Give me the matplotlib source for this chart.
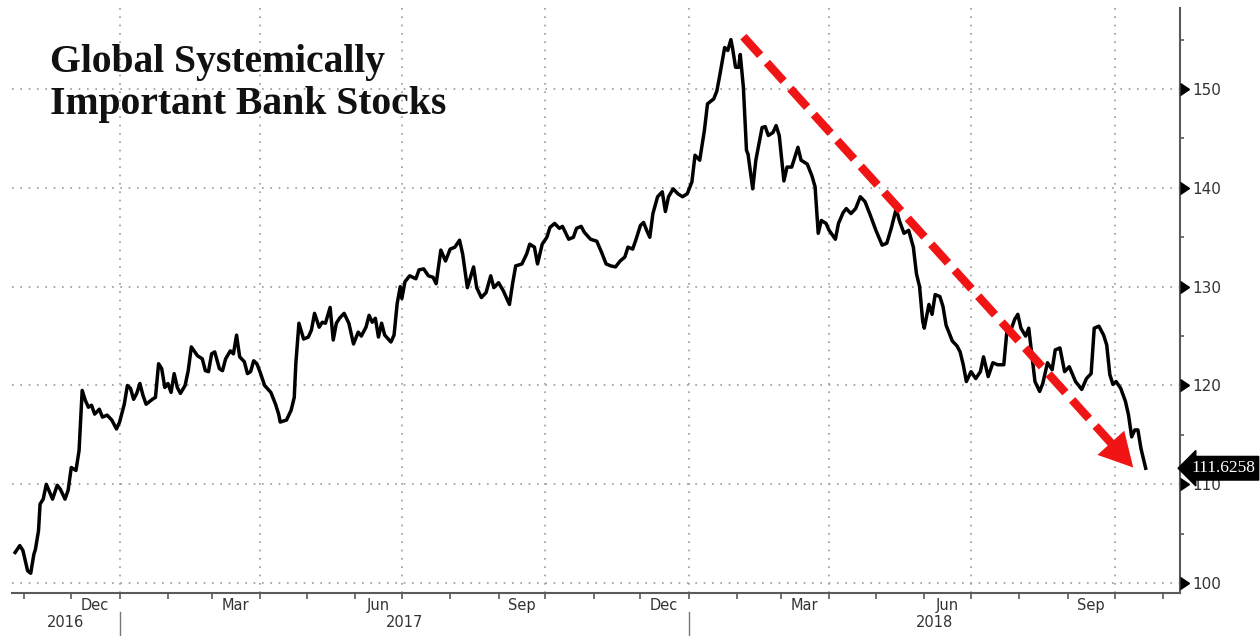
import matplotlib
matplotlib.use("Agg")
import matplotlib.pyplot as plt
import matplotlib.dates as mdates
import matplotlib.transforms as mtransforms
import pandas as pd

# ==========================================
# Data
# ==========================================
DATES = [
    "2016-10-26", "2016-10-29", "2016-10-31", "2016-11-03", "2016-11-05", "2016-11-07", "2016-11-08", "2016-11-10",
    "2016-11-11", "2016-11-13", "2016-11-15", "2016-11-19", "2016-11-22", "2016-11-24", "2016-11-27", "2016-11-29",
    "2016-12-01", "2016-12-04", "2016-12-06", "2016-12-08", "2016-12-10", "2016-12-12", "2016-12-14", "2016-12-16",
    "2016-12-19", "2016-12-21", "2016-12-24", "2016-12-27", "2016-12-30", "2017-01-01", "2017-01-04", "2017-01-06",
    "2017-01-08", "2017-01-10", "2017-01-12", "2017-01-14", "2017-01-16", "2017-01-18", "2017-01-22", "2017-01-24",
    "2017-01-26", "2017-01-28", "2017-01-30", "2017-02-01", "2017-02-03", "2017-02-05", "2017-02-07", "2017-02-09",
    "2017-02-12", "2017-02-14", "2017-02-16", "2017-02-20", "2017-02-23", "2017-02-25", "2017-02-27", "2017-03-01",
    "2017-03-03", "2017-03-06", "2017-03-08", "2017-03-10", "2017-03-13", "2017-03-15", "2017-03-17", "2017-03-19",
    "2017-03-22", "2017-03-24", "2017-03-26", "2017-03-28", "2017-03-30", "2017-04-01", "2017-04-04", "2017-04-08",
    "2017-04-11", "2017-04-13", "2017-04-14", "2017-04-18", "2017-04-21", "2017-04-23", "2017-04-24", "2017-04-26",
    "2017-04-29", "2017-05-02", "2017-05-04", "2017-05-06", "2017-05-09", "2017-05-11", "2017-05-13", "2017-05-16",
    "2017-05-18", "2017-05-20", "2017-05-22", "2017-05-25", "2017-05-28", "2017-05-31", "2017-06-03", "2017-06-05",
    "2017-06-08", "2017-06-10", "2017-06-12", "2017-06-14", "2017-06-16", "2017-06-18", "2017-06-20", "2017-06-24",
    "2017-06-26", "2017-06-28", "2017-06-30", "2017-07-01", "2017-07-03", "2017-07-06", "2017-07-10", "2017-07-12",
    "2017-07-15", "2017-07-18", "2017-07-21", "2017-07-23", "2017-07-26", "2017-07-29", "2017-08-01", "2017-08-04",
    "2017-08-07", "2017-08-09", "2017-08-12", "2017-08-16", "2017-08-18", "2017-08-21", "2017-08-24", "2017-08-27",
    "2017-08-29", "2017-09-01", "2017-09-04", "2017-09-08", "2017-09-10", "2017-09-12", "2017-09-16", "2017-09-19",
    "2017-09-21", "2017-09-24", "2017-09-26", "2017-09-29", "2017-10-02", "2017-10-04", "2017-10-07", "2017-10-10",
    "2017-10-12", "2017-10-16", "2017-10-19", "2017-10-21", "2017-10-24", "2017-10-26", "2017-10-30", "2017-11-03",
    "2017-11-06", "2017-11-09", "2017-11-12", "2017-11-15", "2017-11-18", "2017-11-21", "2017-11-23", "2017-11-26",
    "2017-11-28", "2017-12-01", "2017-12-03", "2017-12-05", "2017-12-07", "2017-12-09", "2017-12-12", "2017-12-15",
    "2017-12-17", "2017-12-19", "2017-12-22", "2017-12-25", "2017-12-28", "2017-12-31", "2018-01-03", "2018-01-05",
    "2018-01-08", "2018-01-11", "2018-01-13", "2018-01-17", "2018-01-19", "2018-01-21", "2018-01-24", "2018-01-26",
    "2018-01-28", "2018-01-29", "2018-01-31", "2018-02-02", "2018-02-03", "2018-02-05", "2018-02-07", "2018-02-08",
    "2018-02-11", "2018-02-13", "2018-02-17", "2018-02-19", "2018-02-21", "2018-02-24", "2018-02-26", "2018-02-28",
    "2018-03-03", "2018-03-05", "2018-03-08", "2018-03-12", "2018-03-14", "2018-03-18", "2018-03-21", "2018-03-23",
    "2018-03-25", "2018-03-27", "2018-03-30", "2018-04-01", "2018-04-05", "2018-04-07", "2018-04-10", "2018-04-12",
    "2018-04-15", "2018-04-18", "2018-04-21", "2018-04-24", "2018-04-27", "2018-05-01", "2018-05-05", "2018-05-08",
    "2018-05-11", "2018-05-14", "2018-05-16", "2018-05-19", "2018-05-22", "2018-05-25", "2018-05-27", "2018-05-29",
    "2018-05-31", "2018-06-01", "2018-06-04", "2018-06-06", "2018-06-08", "2018-06-11", "2018-06-13", "2018-06-15",
    "2018-06-19", "2018-06-22", "2018-06-24", "2018-06-26", "2018-06-28", "2018-07-01", "2018-07-04", "2018-07-07",
    "2018-07-09", "2018-07-12", "2018-07-15", "2018-07-18", "2018-07-22", "2018-07-24", "2018-07-27", "2018-07-29",
    "2018-07-31", "2018-08-02", "2018-08-05", "2018-08-07", "2018-08-09", "2018-08-11", "2018-08-14", "2018-08-16",
    "2018-08-19", "2018-08-22", "2018-08-24", "2018-08-27", "2018-08-30", "2018-09-02", "2018-09-06", "2018-09-10",
    "2018-09-13", "2018-09-16", "2018-09-18", "2018-09-21", "2018-09-24", "2018-09-26", "2018-09-28", "2018-09-30",
    "2018-10-02", "2018-10-05", "2018-10-08", "2018-10-10", "2018-10-12", "2018-10-14", "2018-10-16", "2018-10-18",
    "2018-10-21",
]

VALUES = [
    103.1, 103.8, 103.3, 101.25, 101.0, 102.9, 103.4, 105.3,
    108.0, 108.5, 110.0, 108.5, 109.9, 109.5, 108.5, 109.4,
    111.7, 111.4, 113.4, 119.5, 118.5, 117.8, 118.0, 117.1,
    117.6, 116.8, 117.0, 116.5, 115.6, 116.3, 118.1, 120.0,
    119.7, 118.6, 119.2, 120.2, 119.0, 118.1, 118.6, 118.8,
    122.2, 121.7, 119.8, 120.2, 119.3, 121.2, 119.8, 119.2,
    120.0, 121.5, 123.9, 123.0, 122.7, 121.5, 121.4, 123.2,
    123.4, 121.7, 121.5, 122.7, 123.5, 123.2, 125.1, 122.9,
    122.4, 121.2, 121.4, 122.5, 122.2, 121.4, 120.0, 119.3,
    118.1, 117.1, 116.3, 116.5, 117.5, 118.8, 122.2, 126.3,
    124.7, 124.9, 125.6, 127.3, 125.9, 126.4, 126.3, 127.9,
    124.6, 126.3, 126.8, 127.3, 126.3, 124.2, 125.4, 125.0,
    125.9, 127.1, 126.4, 126.8, 124.9, 126.3, 125.1, 124.4,
    125.1, 128.3, 130.0, 128.8, 130.5, 131.1, 130.8, 131.7,
    131.8, 131.1, 130.95, 130.3, 133.7, 132.6, 133.8, 134.0,
    134.7, 133.3, 129.9, 132.0, 129.9, 128.9, 129.4, 131.1,
    129.9, 130.4, 129.6, 128.2, 130.3, 132.1, 132.3, 133.3,
    134.3, 134.0, 132.3, 134.3, 135.0, 136.0, 136.4, 135.9,
    136.1, 134.8, 135.0, 135.9, 136.1, 135.5, 134.8, 134.6,
    133.5, 132.3, 132.1, 132.0, 132.6, 133.0, 134.0, 133.8,
    134.7, 136.2, 136.5, 135.7, 135.0, 137.4, 139.1, 139.6,
    137.6, 139.1, 139.9, 139.4, 139.1, 139.4, 140.6, 143.3,
    142.8, 145.8, 148.5, 149.0, 149.8, 151.5, 154.2, 153.9,
    155.0, 154.2, 152.2, 152.2, 153.5, 150.2, 143.8, 143.4,
    139.9, 142.8, 146.1, 146.2, 145.3, 145.6, 146.3, 145.3,
    140.7, 142.1, 142.1, 144.1, 142.8, 142.4, 141.2, 140.1,
    135.4, 136.7, 136.4, 135.7, 134.8, 136.4, 137.5, 137.9,
    137.4, 137.9, 139.1, 138.6, 137.4, 135.7, 134.2, 134.4,
    136.0, 137.9, 136.7, 135.4, 135.7, 134.0, 131.3, 130.0,
    126.5, 125.8, 128.2, 127.2, 129.2, 129.0, 128.0, 126.1,
    124.5, 124.0, 123.4, 122.1, 120.4, 121.4, 120.7, 121.4,
    122.9, 120.9, 122.3, 122.1, 122.1, 125.5, 125.8, 126.7,
    127.2, 125.8, 125.0, 125.8, 123.1, 120.4, 119.4, 120.2,
    122.3, 121.6, 123.6, 123.8, 121.4, 121.9, 120.4, 119.6,
    120.7, 121.2, 125.8, 126.0, 125.1, 124.1, 121.1, 120.1,
    120.4, 119.7, 118.4, 117.0, 114.8, 115.5, 115.5, 113.6,
    111.6258,
]

TITLE = "Global Systemically\nImportant Bank Stocks"
YTICKS = [100, 110, 120, 130, 140, 150]
YMINOR = [105, 115, 125, 135, 145, 155]
LABEL_MONTHS = ["2016-12", "2017-03", "2017-06", "2017-09", "2017-12", "2018-03", "2018-06", "2018-09"]
YEAR_BREAKS = ["2017-01-01", "2018-01-01"]
YEARS = ["2016", "2017", "2018"]
X_RANGE = ("2016-10-24", "2018-11-12")
Y_RANGE = (99.0, 158.2)

# trend arrow drawn on top of the series
ARROW_START = ("2018-02-05", 155.3)
ARROW_END = ("2018-10-13", 111.7)

GRID = "#9a9a9a"
AXIS = "#5a5a5a"
TEXT = "#333333"
RED = "#f01414"

# ==========================================
# Figure
# ==========================================
fig = plt.figure(figsize=(12.6, 6.36), dpi=100)
ax = fig.add_axes([12 / 1260, 1 - 593 / 636, 1168 / 1260, 585 / 636])

dates = pd.to_datetime(DATES)
ax.plot(dates, VALUES, color="black", lw=2.5, solid_joinstyle="round", zorder=4)

x0, x1 = pd.to_datetime(X_RANGE[0]), pd.to_datetime(X_RANGE[1])
ax.set_xlim(x0, x1)
ax.set_ylim(*Y_RANGE)

# spines
for side in ["left", "top"]:
    ax.spines[side].set_visible(False)
for side in ["right", "bottom"]:
    ax.spines[side].set_color(AXIS)
    ax.spines[side].set_linewidth(1.5)

# y axis on the right, triangles as major ticks
ax.yaxis.tick_right()
ax.set_yticks(YTICKS)
ax.set_yticks(YMINOR, minor=True)
ax.tick_params(axis="y", which="major", length=0, pad=9, labelsize=11, labelcolor=TEXT)
ax.tick_params(axis="y", which="minor", length=3, direction="out", color=AXIS, width=1.2)
ax.plot([1.0] * len(YTICKS), YTICKS, transform=ax.get_yaxis_transform(), marker=9,
        markersize=9, color="black", ls="none", clip_on=False, zorder=5)

# x axis: monthly ticks, quarterly grid, labels in the middle of the month
ax.xaxis.set_major_locator(mdates.MonthLocator(bymonth=[1, 4, 7, 10]))
ax.xaxis.set_minor_locator(mdates.MonthLocator())
ax.tick_params(axis="x", which="both", length=4, direction="out", color=AXIS, width=1.2,
               labelbottom=False)

ax.grid(True, which="major", color=GRID, lw=1.2, linestyle=(0, (1, 4)))

xtrans = ax.get_xaxis_transform()
for m in LABEL_MONTHS:
    d = pd.Timestamp(m + "-16")
    ax.text(d, -0.022, d.strftime("%b"), transform=xtrans, ha="center", va="center",
            fontsize=10.5, color=TEXT, clip_on=False)

edges = [x0] + list(pd.to_datetime(YEAR_BREAKS)) + [x1]
for i, year in enumerate(YEARS):
    mid = edges[i] + (edges[i + 1] - edges[i]) / 2
    ax.text(mid, -0.05, year, transform=xtrans, ha="center", va="center",
            fontsize=10.5, color=TEXT, clip_on=False)
for b in pd.to_datetime(YEAR_BREAKS):
    ax.axvline(b, ymin=-0.075, ymax=-0.032, color="#777777", lw=1.0, clip_on=False)

# last value tag
tag_trans = mtransforms.offset_copy(ax.get_yaxis_transform(), fig=fig, x=11, y=0, units="dots")
ax.text(1.0, VALUES[-1], f"{VALUES[-1]:.4f}", transform=tag_trans, ha="left", va="center",
        fontsize=12.5, family="Liberation Serif", color="white", clip_on=False, zorder=6,
        bbox=dict(boxstyle="larrow,pad=0.22", fc="black", ec="black"))

# red dashed trend arrow
start = (pd.Timestamp(ARROW_START[0]), ARROW_START[1])
end = (pd.Timestamp(ARROW_END[0]), ARROW_END[1])
ax.annotate("", xy=end, xytext=start,
            arrowprops=dict(arrowstyle="-", color=RED, lw=6, linestyle=(0, (3, 1.2)),
                            shrinkA=0, shrinkB=18, capstyle="butt"), zorder=5)
ax.annotate("", xy=end, xytext=start,
            arrowprops=dict(arrowstyle="-|>,head_length=2.4,head_width=1.3", color=RED, lw=0,
                            shrinkA=0, shrinkB=0), zorder=5)

# title
fig.text(50 / 1260, 1 - 44 / 636, TITLE, ha="left", va="top", fontsize=28.5,
         family="Liberation Serif", weight="bold", color="#111111", linespacing=1.18)

fig.savefig("out.png", dpi=100, facecolor="white")
